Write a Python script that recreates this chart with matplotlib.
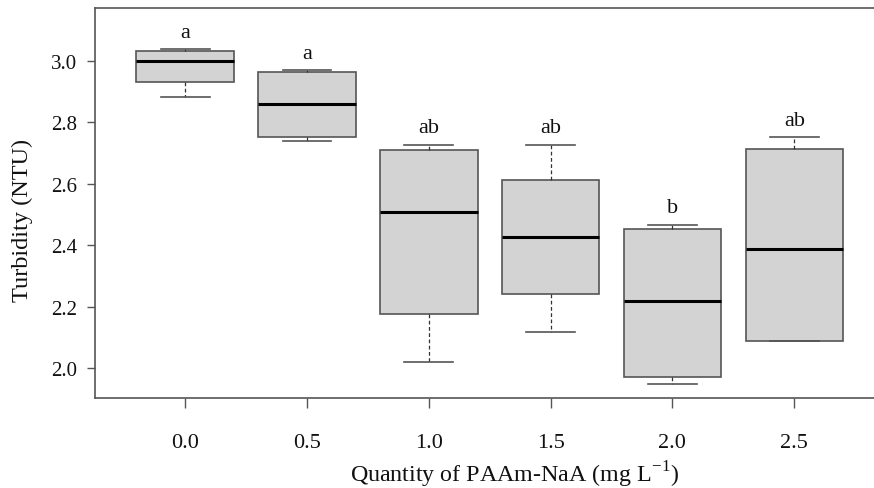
import matplotlib
matplotlib.use("Agg")
import matplotlib.pyplot as plt

categories = ["0.0", "0.5", "1.0", "1.5", "2.0", "2.5"]
whisker_low = [2.880, 2.740, 2.020, 2.119, 1.947, 2.088]
q1 = [2.929, 2.751, 2.176, 2.241, 1.971, 2.088]
median = [3.000, 2.859, 2.508, 2.428, 2.218, 2.386]
q3 = [3.030, 2.962, 2.708, 2.613, 2.452, 2.712]
whisker_high = [3.038, 2.968, 2.727, 2.727, 2.467, 2.750]
letters = ["a", "a", "ab", "ab", "b", "ab"]
yticks = [2.0, 2.2, 2.4, 2.6, 2.8, 3.0]

plt.rcParams['font.family'] = ['Liberation Serif', 'DejaVu Serif']
plt.rcParams['mathtext.fontset'] = 'custom'
plt.rcParams['mathtext.rm'] = 'Liberation Serif'

fig = plt.figure(figsize=(8.74, 4.89), dpi=100)
W, H = 874, 489
left, right, top, bottom = 95, 884.4, 9.3, 399
ax = fig.add_axes([left / W, 1 - bottom / H, (right - left) / W, (bottom - top) / H])

stats = []
for i in range(len(categories)):
    stats.append(dict(med=median[i], q1=q1[i], q3=q3[i],
                      whislo=whisker_low[i], whishi=whisker_high[i],
                      fliers=[], label=categories[i]))

edge = "#555555"
positions = list(range(1, len(categories) + 1))
ax.bxp(stats, positions=positions, widths=0.8, patch_artist=True,
       showfliers=False,
       boxprops=dict(facecolor="#d3d3d3", edgecolor=edge, linewidth=1.2),
       medianprops=dict(color="black", linewidth=2.2),
       whiskerprops=dict(color="#333333", linewidth=0.9, linestyle=(0, (3, 2))),
       capprops=dict(color=edge, linewidth=1.2),
       capwidths=0.4)

for p, hi, lab in zip(positions, whisker_high, letters):
    ax.text(p, hi + 0.040, lab, ha="center", va="baseline", fontsize=16, color="#111111")

ax.set_xlim(0.26, 6.74)
ax.set_ylim(1.903, 3.17)
ax.set_yticks(yticks)
ax.set_yticklabels([f"{v:.1f}" for v in yticks])
ax.set_xticks(positions)
ax.set_xticklabels(categories)

for s in ax.spines.values():
    s.set_color(edge)
    s.set_linewidth(1.2)

ax.tick_params(axis="x", length=7, width=1, color=edge, pad=18, labelsize=16, labelcolor="#111111")
ax.tick_params(axis="y", length=6, width=1, color=edge, pad=7, labelsize=15, labelcolor="#111111")

ax.set_ylabel("Turbidity (NTU)", fontsize=17.5, color="#111111")
ax.yaxis.set_label_coords(-0.079, 0.458)
ax.set_xlabel(r"Quantity of PAAm-NaA (mg L$^{\mathregular{-1}}$)", fontsize=17.3, color="#111111")
ax.xaxis.set_label_coords(0.531, -0.156)

fig.savefig("out.png", dpi=100)
